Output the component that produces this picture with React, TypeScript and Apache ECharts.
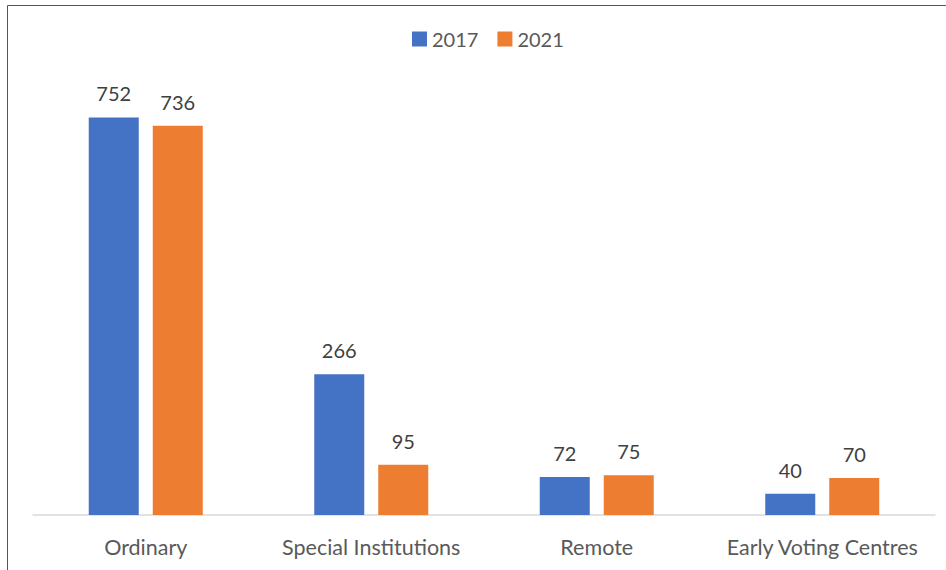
import React, { useEffect, useRef } from "react";
import * as echarts from "echarts";

const categories = ["Ordinary", "Special Institutions", "Remote", "Early Voting Centres"];
const series2017 = [752, 266, 72, 40];
const series2021 = [736, 95, 75, 70];
const seriesNames = ["2017", "2021"];

export default function App() {
  const ref = useRef<HTMLDivElement>(null);
  useEffect(() => {
    if (!ref.current) return;
    const chart = echarts.init(ref.current, undefined, { renderer: "svg" });
    const font = "Lato, 'Noto Sans', sans-serif";
    const label = {
      show: true,
      position: "top",
      distance: 14,
      fontSize: 20,
      color: "#404040",
      fontFamily: font,
    };
    chart.setOption({
      animation: false,
      textStyle: { fontFamily: font },
      graphic: [
        {
          type: "rect",
          shape: { x: 7.5, y: 5.5, width: 1000, height: 1000 },
          style: { fill: "none", stroke: "#555555", lineWidth: 1 },
          silent: true,
        },
      ],
      legend: {
        data: seriesNames,
        top: 24,
        left: 407,
        itemWidth: 15,
        itemHeight: 15,
        itemGap: 19,
        icon: "rect",
        textStyle: { fontSize: 20, color: "#595959", fontFamily: font },
      },
      grid: { left: 33, right: 11, top: 92, bottom: 55, containLabel: false },
      xAxis: {
        type: "category",
        data: categories,
        axisLine: { lineStyle: { color: "#d9d9d9", width: 1.5 } },
        axisTick: { show: false },
        axisLabel: { interval: 0, hideOverlap: false, fontSize: 21.5, color: "#595959", margin: 21, fontFamily: font },
      },
      yAxis: {
        type: "value",
        min: 0,
        max: 800,
        show: false,
        splitLine: { show: false },
      },
      series: [
        {
          name: seriesNames[0],
          type: "bar",
          data: series2017,
          barWidth: 50,
          barGap: "28%",
          itemStyle: { color: "#4472c4" },
          label,
        },
        {
          name: seriesNames[1],
          type: "bar",
          data: series2021,
          barWidth: 50,
          barGap: "28%",
          itemStyle: { color: "#ed7d31" },
          label,
        },
      ],
    });
    return () => chart.dispose();
  }, []);
  return (
    <div
      ref={ref}
      style={{ position: "fixed", left: 0, top: 0, width: 946, height: 570, background: "#fff" }}
    />
  );
}
